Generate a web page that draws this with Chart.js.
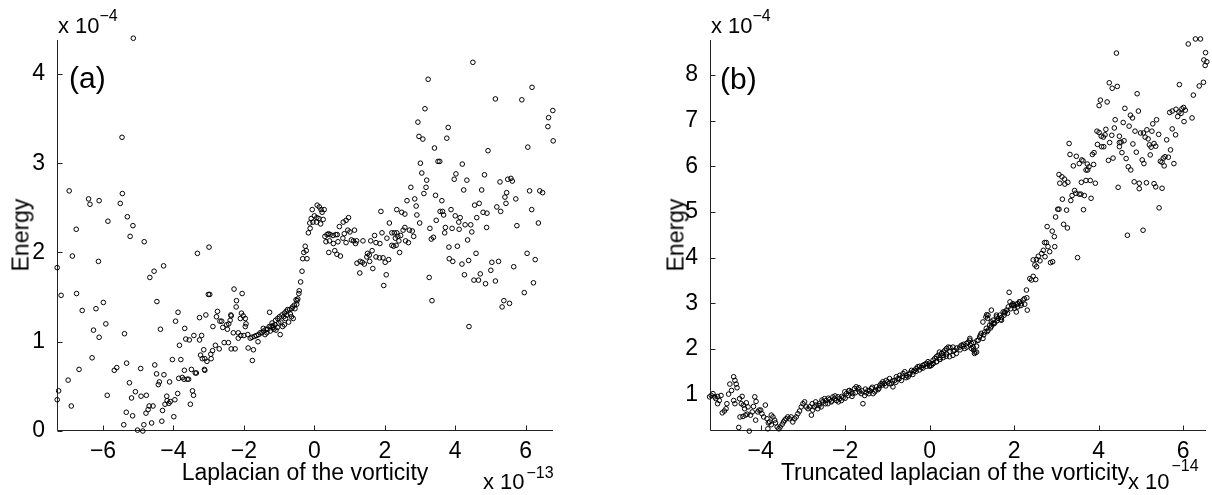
<!DOCTYPE html>
<html>
<head>
<meta charset="utf-8">
<script src="https://cdn.jsdelivr.net/npm/chart.js@4.4.1/dist/chart.umd.min.js"></script>
<style>
  body { margin:0; background:#fff; width:1212px; height:495px; overflow:hidden; position:relative;
         font-family:'Liberation Sans', Arial, sans-serif; color:#000; }
  canvas { position:absolute; top:0; }
  #chartA { left:0; }
  #chartB { left:606px; }
  .t { position:absolute; white-space:nowrap; line-height:1; font-size:23px; }
  .mul { font-size:22px; }
  .sup { font-size:16px; }
  .tag { font-size:30px; }
  .xt { transform:translateX(-50%); }
  .yt { transform:translate(-50%,-50%) rotate(-90deg); }
</style>
</head>
<body>
<canvas id="chartA" width="606" height="495"></canvas>
<canvas id="chartB" width="606" height="495"></canvas>

<div class="t mul" style="left:58px;top:14.7px">x 10</div>
<div class="t sup" style="left:99.5px;top:8.2px">&minus;4</div>
<div class="t tag" style="left:69px;top:63px">(a)</div>
<div class="t yt" style="left:21px;top:235px">Energy</div>
<div class="t xt" style="left:305px;top:460.5px">Laplacian of the vorticity</div>
<div class="t mul" style="left:483px;top:471.4px">x 10</div>
<div class="t sup" style="left:526.5px;top:464.8px">&minus;13</div>

<div class="t mul" style="left:711px;top:14.7px">x 10</div>
<div class="t sup" style="left:752.5px;top:8.2px">&minus;4</div>
<div class="t tag" style="left:720px;top:64px">(b)</div>
<div class="t yt" style="left:675.5px;top:235px">Energy</div>
<div class="t xt" style="left:955px;top:460.5px">Truncated laplacian of the vorticity</div>
<div class="t mul" style="left:1128px;top:471.4px">x 10</div>
<div class="t sup" style="left:1171.5px;top:458.2px">&minus;14</div>

<script>
// panel (a): Laplacian of the vorticity (x 1e-13) vs Energy (x 1e-4)
const A_XRANGE = [-7.306, 6.775];
const A_YRANGE = [0, 4.38];
const A_XTICKS = [-6, -4, -2, 0, 2, 4, 6];
const A_YTICKS = [0, 1, 2, 3, 4];
const A_POINTS = [
  [-5.14,4.40],[-5.46,3.29],[-6.96,2.69],[-6.41,2.60],[-6.37,2.54],[-6.11,2.58],[-5.51,2.55],[-5.45,2.66],[-5.86,2.35],[-6.76,2.26],
  [-5.31,2.40],[-5.15,2.30],[-5.23,2.18],[-4.83,2.12],[-2.99,2.06],[-3.32,1.99],[-6.87,1.96],[-6.13,1.90],[-7.30,1.83],[-4.28,1.85],
  [-4.55,1.79],[-4.67,1.72],[-7.19,1.52],[-6.75,1.54],[-5.99,1.44],[-4.47,1.45],[-6.59,1.35],[-6.20,1.37],[-5.92,1.20],[-6.27,1.13],
  [-6.11,1.05],[-5.39,1.09],[-4.37,1.14],
  [-3.87,1.33],[-3.94,1.23],[-3.68,1.15],[-3.83,0.96],[-3.65,1.03],[-3.55,1.02],[-3.42,1.07],[-3.26,1.02],[-3.20,1.07],[-3.26,1.27],
  [-3.08,1.30],[-3.01,1.53],[-2.97,1.53],[-2.88,1.17],[-2.75,1.34],[-2.78,1.28],[-2.68,1.23],[-2.63,1.23],[-2.60,1.16],[-2.49,1.19],
  [-2.47,1.14],[-2.43,1.20],[-2.39,1.24],[-2.36,1.29],[-2.56,0.99],[-2.44,0.99],[-2.70,0.92],[-2.81,0.96],[-2.89,0.90],[-2.94,0.86],
  [-3.11,0.81],[-3.14,0.91],[-3.23,0.85],[-3.18,0.81],[-3.05,0.78],[-2.93,0.81],[-3.11,0.68],[-2.28,1.59],[-2.21,1.46],[-2.22,1.39],
  [-2.05,1.54],[-2.07,1.32],[-2.02,1.29],[-1.94,1.20],[-1.96,1.26],[-2.10,1.26],[-2.36,0.92],[-2.25,0.92],[-2.30,1.10],[-2.16,1.04],
  [-2.00,1.07],[-1.89,1.08],[-1.88,0.93],[-1.76,0.79],[-1.73,0.91],[-1.60,1.00],[-2.37,1.30],[-1.96,1.17],[-2.16,1.10],[-2.09,1.07],
  [-7.30,0.35],[-7.26,0.45],[-6.99,0.57],[-6.90,0.28],[-6.68,0.69],[-6.31,0.82],[-5.88,0.40],[-5.68,0.68],[-5.61,0.71],[-5.33,0.76],
  [-5.25,0.54],[-5.19,0.37],[-5.34,0.21],[-5.16,0.17],[-5.41,0.07],[-5.08,0.44],[-5.02,0.01],[-4.87,0.00],[-4.84,0.07],[-4.93,0.70],
  [-4.92,0.39],[-4.77,0.40],[-4.78,0.20],[-4.72,0.24],[-4.69,0.28],[-4.58,0.28],[-4.62,0.09],[-4.53,0.74],[-4.48,0.64],[-4.43,0.52],
  [-4.40,0.55],[-4.27,0.63],[-4.33,0.11],[-4.31,0.23],[-4.24,0.30],[-4.18,0.34],[-4.13,0.31],[-4.09,0.33],[-4.19,0.39],[-4.11,0.55],
  [-3.99,0.16],[-3.96,0.35],[-3.88,0.42],[-4.03,0.80],[-3.79,0.80],[-3.85,0.59],[-3.75,0.60],[-3.70,0.58],[-3.61,0.58],[-3.57,0.58],
  [-3.69,0.68],[-3.49,0.69],[-3.46,0.45],[-3.43,0.40],[-3.52,0.30],[-3.38,0.65],[-3.35,0.65],[-3.12,0.69],
  [-1.82,1.04],[-1.77,1.05],[-1.70,1.06],[-1.64,1.07],[-1.54,1.10],[-1.49,1.10],[-1.44,1.12],[-1.37,1.14],[-1.32,1.14],[-1.28,1.17],
  [-1.23,1.17],[-1.18,1.18],[-1.12,1.19],[-1.01,1.21],[-1.04,1.26],[-0.99,1.28],[-0.92,1.30],[-0.87,1.28],[-0.85,1.32],[-0.80,1.34],
  [-0.76,1.36],[-0.70,1.36],[-0.64,1.37],[-0.62,1.39],[-0.57,1.41],[-0.52,1.47],[-0.47,1.48],[-1.27,1.33],[-0.97,1.08],[-1.09,1.13],
  [-1.17,1.16],[-0.65,1.28],[-0.60,1.26],[-0.73,1.22],[-0.85,1.19],[-0.90,1.17],[-1.40,1.08],[-1.35,1.10],[-1.25,1.12],[-1.15,1.14],
  [-1.05,1.16],[-0.95,1.22],[-0.82,1.26],[-0.68,1.31],[-1.58,1.08],[-1.45,1.15],[-1.20,1.21],[-1.10,1.24],[-0.78,1.30],[-0.55,1.37],
  [-0.50,1.42],
  [-0.49,1.46],[-0.44,1.54],[-0.43,1.57],[-0.39,1.67],[-0.35,1.79],[-0.33,1.93],[-0.21,1.93],[-0.30,2.00],[-0.26,2.07],[-0.23,2.02],
  [-0.17,2.22],[-0.12,2.27],[0.08,2.53],[0.14,2.51],[0.19,2.48],[0.28,2.48],[0.22,2.45],[-0.06,2.48],[-0.09,2.38],[0.00,2.41],
  [0.07,2.39],[0.13,2.38],[0.06,2.34],[-0.04,2.34],[-0.13,2.33],[0.25,2.37],[0.18,2.32],
  [0.30,2.18],[0.36,2.20],[0.40,2.21],[0.45,2.20],[0.53,2.19],[0.61,2.20],[0.65,2.20],[0.33,2.12],[0.43,2.13],[0.54,2.10],
  [0.67,2.12],[0.41,2.00],[0.58,2.02],[0.64,1.98],[0.74,1.96],[0.71,2.29],[0.82,2.34],[0.90,2.36],[0.97,2.39],[0.95,2.25],
  [1.01,2.23],[0.85,2.21],[0.81,2.16],[0.90,2.11],[1.05,2.14],[1.14,2.25],[1.11,2.13],[1.17,2.10],[1.20,2.13],[1.38,2.13],
  [1.60,2.13],[1.71,2.19],[1.75,2.11],[1.86,2.10],[1.92,2.22],[2.06,2.16],[2.13,2.33],[2.20,2.22],[2.27,2.22],[2.34,2.22],
  [2.30,2.16],[2.37,2.18],[2.40,2.13],[2.45,2.19],[2.52,2.25],[2.57,2.28],[2.20,2.08],[2.25,2.07],[2.32,2.08],[2.42,2.00],
  [1.21,1.88],[1.30,1.90],[1.36,1.89],[1.42,1.87],[1.49,1.95],[1.56,1.97],[1.64,2.02],[1.51,1.99],[1.75,1.95],[1.85,1.94],
  [1.95,1.94],[2.01,1.89],[2.11,1.92],[1.57,1.90],[1.66,1.82],[1.29,1.77],[2.04,1.75],[1.97,1.63],[1.89,2.46],[2.34,2.48],
  [2.48,2.45],[2.57,2.43],
  [4.50,4.13],[3.23,3.94],[6.18,3.85],[5.14,3.72],[5.89,3.71],[3.14,3.61],[6.77,3.59],[6.65,3.51],[6.63,3.41],[6.78,3.25],
  [2.94,3.46],[3.80,3.40],[2.97,3.30],[3.08,3.27],[3.76,3.28],[3.41,3.17],[4.93,3.14],[6.06,3.18],[3.01,3.00],[3.51,3.02],
  [3.56,3.02],[4.20,2.99],[3.05,2.89],[4.02,2.88],[3.97,2.82],[3.19,2.81],[4.33,2.81],[4.83,2.87],[2.74,2.73],[3.17,2.73],
  [3.11,2.66],[3.44,2.64],[4.24,2.70],[4.75,2.70],[5.27,2.79],[5.49,2.82],[5.58,2.83],[5.62,2.80],[5.46,2.67],[5.41,2.62],
  [5.44,2.55],[5.72,2.60],[6.11,2.69],[6.40,2.69],[6.48,2.67],[6.17,2.48],[2.63,2.58],[2.85,2.60],[2.89,2.52],[3.62,2.58],
  [3.57,2.46],[3.64,2.46],[3.67,2.42],[3.88,2.48],[3.46,2.36],[2.91,2.42],[2.99,2.33],[4.00,2.41],[4.14,2.39],[4.10,2.34],
  [4.55,2.53],[4.68,2.55],[4.79,2.45],[4.90,2.44],[4.61,2.39],[5.18,2.51],[5.29,2.46],[4.28,2.31],[4.44,2.31],[4.47,2.23],
  [4.89,2.28],[5.75,2.30],[6.36,2.33],[2.70,2.25],[2.78,2.24],[2.82,2.18],[2.67,2.11],[2.59,2.13],[3.28,2.27],[3.72,2.28],
  [3.91,2.27],[4.11,2.26],[3.70,2.22],[3.32,2.15],[3.38,2.17],[4.35,2.14],[3.82,2.06],[4.06,2.07],[3.83,1.93],[3.93,1.90],
  [4.19,1.87],[4.38,1.91],[4.59,1.99],[5.04,1.89],[5.23,1.90],[5.01,1.80],[4.26,1.75],[4.53,1.69],[4.66,1.69],[4.71,1.76],
  [4.86,1.65],[5.14,1.68],[5.66,1.84],[6.04,1.99],[6.27,1.92],[6.22,1.66],[5.96,1.55],[3.26,1.72],[3.34,1.46],[5.38,1.46],
  [5.33,1.39],[5.54,1.43],[4.39,1.17]
];

// panel (b): Truncated laplacian of the vorticity (x 1e-14) vs Energy (x 1e-4)
const B_XRANGE = [-5.20, 6.54];
const B_YRANGE = [0.202, 8.767];
const B_XTICKS = [-4, -2, 0, 2, 4, 6];
const B_YTICKS = [1, 2, 3, 4, 5, 6, 7, 8];
const B_POINTS = [
  [-5.21,0.95],[-5.17,0.98],[-5.13,1.02],[-5.09,0.95],[-5.06,0.91],[-5.02,0.96],[-4.98,0.87],[-4.94,0.98],[-5.02,0.80],[-4.91,0.60],
  [-4.86,0.64],[-4.82,0.69],[-4.80,0.80],[-4.76,1.01],[-4.73,1.23],[-4.69,1.09],[-4.64,1.39],[-4.61,1.31],[-4.58,1.23],[-4.56,1.15],
  [-4.64,0.87],[-4.61,0.80],[-4.52,0.28],[-4.50,0.91],[-4.46,0.80],[-4.44,0.96],[-4.41,0.77],[-4.38,0.69],[-4.34,0.82],[-4.30,0.73],
  [-4.49,0.51],[-4.42,0.52],[-4.36,0.55],[-4.32,0.57],[-4.27,0.20],[-4.24,0.55],[-4.20,0.62],[-4.17,0.74],[-4.14,0.95],[-4.11,0.85],
  [-4.12,0.44],[-4.07,0.62],[-4.04,0.66],[-4.00,0.66],[-3.97,0.58],[-3.93,0.51],[-3.89,0.77],[-3.85,0.47],[-3.82,0.38],[-3.79,0.40],
  [-3.83,0.25],[-3.75,0.55],[-3.71,0.51],[-3.67,0.44],[-3.65,0.38],[-3.75,0.34],[-3.61,0.29],[-3.57,0.25],[-3.54,0.29],[-3.49,0.35],
  [-3.46,0.40],[-3.43,0.44],[-3.40,0.47],[-3.36,0.51],[-3.32,0.47],[-3.28,0.51],[-3.24,0.40],[-3.20,0.47],[-3.16,0.51],[-3.12,0.58],
  [-3.08,0.64],[-3.04,0.73],[-3.00,0.80],[-2.96,0.84],[-2.92,0.73],[-2.88,0.69],[-2.84,0.73],[-2.80,0.55],[-2.77,0.66],[-2.73,0.73],
  [-2.69,0.77],[-2.65,0.69],[-2.61,0.80],[-2.57,0.73],[-2.53,0.84],[-2.49,0.91],[-2.45,0.87],[-2.41,0.80],[-2.37,0.89],[-2.33,0.84],
  [-2.29,0.95],[-2.25,0.91],[-2.21,0.87],[-2.17,0.95],[-2.13,0.91],[-2.09,0.87],[-2.05,0.93],[-2.01,1.06],[-1.97,1.02],[-1.93,0.98],
  [-1.90,1.09],[-1.86,1.06],[-1.82,1.02],[-1.78,1.13],[-1.74,1.17],[-1.70,1.12],[-1.66,1.06],[-1.62,1.02],[-1.58,0.80],[-1.54,0.98],
  [-1.50,1.04],[-1.46,1.09],[-1.42,1.08],[-1.38,1.13],[-1.34,1.02],[-1.30,1.06],[-1.26,1.17],[-1.22,1.11],[-1.18,1.20],[-1.15,1.24],
  [-1.11,1.28],[-1.07,1.24],[-1.03,1.31],[-0.99,1.28],[-0.95,1.35],[-0.91,1.24],[-0.87,1.17],[-0.83,1.31],[-0.79,1.39],[-0.75,1.35],
  [-0.71,1.42],[-0.67,1.31],[-0.63,1.46],[-0.59,1.50],[-0.55,1.42],[-0.51,1.39],[-0.47,1.47],[-0.43,1.53],[-0.39,1.50],[-0.36,1.53],
  [-0.32,1.57],[-0.28,1.61],[-0.24,1.62],[-0.20,1.59],[-0.16,1.64],[-0.12,1.66],[-0.08,1.68],[-0.04,1.72],[0.00,1.69],[0.04,1.64],
  [0.08,1.75],[0.12,1.79],[0.16,1.83],[0.20,1.86],[0.24,1.81],[0.28,1.90],[0.32,1.93],[0.36,1.97],[0.40,2.01],[0.44,2.04],
  [0.48,2.03],
  [0.00,1.64],[0.08,1.68],[0.16,1.72],[0.24,1.77],[0.32,1.81],[0.39,1.84],[0.47,1.83],[0.55,1.86],[0.59,1.97],[0.63,1.90],
  [0.71,2.04],[0.75,2.08],[0.79,2.06],[0.83,2.01],[0.87,2.12],[0.91,2.15],[0.95,2.19],[0.99,2.12],[1.03,2.04],[1.07,1.93],
  [1.11,2.06],[1.15,2.19],[1.18,2.26],[1.22,2.34],[1.26,2.23],[1.30,2.37],[1.34,2.45],[1.38,2.41],[1.42,2.52],[1.46,2.59],
  [1.50,2.63],[1.54,2.57],[1.58,2.70],[1.62,2.67],[1.66,2.74],[1.70,2.69],[1.74,2.81],[1.78,2.79],[1.82,2.85],[1.86,2.92],
  [1.90,3.03],[1.94,2.96],[1.97,2.99],[2.01,2.89],[2.05,2.81],[2.09,2.99],[2.13,3.03],[2.17,2.99],[2.21,3.07],[2.25,2.98],
  [2.29,3.29],[2.31,2.85],[1.88,3.24],[1.46,2.85],[1.38,2.74],[1.33,2.70],[1.26,2.59],[1.11,1.93],[0.99,2.01],
  [-2.78,0.80],[-2.70,0.84],[-2.62,0.76],[-2.55,0.88],[-2.47,0.80],[-2.40,0.92],[-2.32,0.86],[-2.24,0.97],[-2.16,0.84],[-2.08,0.96],
  [-2.00,0.92],[-1.92,1.08],[-1.84,0.96],[-1.76,1.04],[-1.68,1.15],[-1.60,1.08],[-1.52,1.12],[-1.44,1.02],[-1.36,1.16],[-1.28,1.10],
  [-1.20,1.14],[-1.12,1.21],[-1.04,1.19],[-0.96,1.24],[-0.88,1.30],[-0.80,1.27],[-0.72,1.35],[-0.64,1.40],[-0.56,1.37],[-0.48,1.44],
  [-0.40,1.44],[-0.32,1.51],[-0.24,1.54],[-0.16,1.58],[-0.08,1.62],[0.00,1.62],[0.08,1.68],[0.16,1.72],[0.24,1.77],[0.32,1.86],
  [0.40,1.89],[0.48,1.94],[0.56,1.95],[0.64,2.02],[0.72,1.98],[0.80,2.10],[0.88,2.04],[0.96,2.08],[1.04,2.14],[1.12,2.18],
  [1.20,2.30],[1.28,2.31],[1.36,2.38],[1.44,2.46],[1.52,2.55],[1.60,2.62],[1.68,2.64],[1.76,2.74],[1.84,2.78],[1.92,2.88],
  [2.00,2.95],[2.08,2.92],[2.16,2.95],[2.24,3.10],[2.30,3.12],[1.04,1.97],[1.06,1.90],[0.95,2.23],[0.55,2.04],[0.23,1.93],
  [1.35,2.75],[1.37,2.67],[1.50,2.56],[1.46,2.50],[1.58,2.74],[1.70,2.63],[1.78,2.81],[1.98,2.96],[2.05,2.98],[2.12,3.03],
  [2.37,3.54],[2.41,3.51],[2.45,3.95],[2.49,3.84],[2.53,3.96],[2.57,4.03],[2.61,3.93],[2.65,4.09],[2.69,4.16],[2.73,4.02],
  [2.76,4.33],[2.80,4.24],[2.84,4.13],[2.86,3.89],[2.91,3.91],[2.96,4.24],[2.51,3.52],[2.45,3.59],[2.53,3.80],[2.72,4.33],
  [3.50,4.00],
  [6.29,8.79],[6.41,8.79],[6.12,8.68],[6.53,8.49],[6.49,8.33],[6.56,8.29],[6.52,8.21],[4.42,8.48],[6.48,7.84],[6.38,7.76],
  [5.91,7.79],[6.24,7.56],[4.25,7.83],[4.32,7.71],[4.44,7.75],[4.91,7.59],[4.04,7.45],[4.01,7.33],[4.20,7.41],[4.62,7.27],
  [4.75,7.12],[4.80,7.06],[4.94,7.21],[4.39,7.02],[4.58,6.96],[4.72,6.88],[4.37,6.84],[4.17,6.81],[3.96,6.77],[4.01,6.74],
  [4.06,6.66],[4.11,6.64],[4.15,6.69],[4.31,6.68],[4.49,6.66],[4.53,6.53],[4.60,6.56],[4.49,6.52],[4.86,6.77],[4.99,6.73],
  [5.06,6.73],[5.14,6.80],[5.26,6.77],[5.37,7.02],[5.28,6.93],[5.42,6.70],[5.10,6.64],[5.17,6.60],[5.20,6.47],[5.31,6.50],
  [5.35,6.44],[5.24,6.42],[3.97,6.48],[4.07,6.43],[4.12,6.43],[4.26,6.52],[4.49,6.43],[4.81,6.49],[4.89,6.31],[5.22,6.25],
  [4.55,6.30],[4.65,6.17],[4.34,6.18],[4.23,6.13],[4.70,5.99],[4.76,5.92],[5.03,6.14],[5.07,6.06],[5.53,6.18],[5.57,6.21],
  [5.61,6.58],[5.65,6.20],[5.70,6.36],[5.74,6.82],[5.82,6.69],[5.68,7.18],[5.74,7.21],[5.83,7.25],[5.90,7.19],[5.87,7.09],
  [5.95,7.16],[5.97,7.26],[6.01,7.29],[6.05,7.23],[6.02,6.98],[6.21,7.06],[5.46,6.11],[5.50,6.09],[5.55,6.01],[5.78,6.06],
  [3.30,6.50],[3.32,6.26],[3.47,6.22],[3.60,6.14],[3.40,6.01],[3.54,6.06],[3.63,6.12],[3.73,6.05],[3.77,5.99],[3.88,6.04],
  [3.85,6.26],[3.89,6.30],[3.70,5.92],[3.74,5.92],[3.06,5.82],[3.13,5.77],[3.19,5.72],[3.08,5.63],[3.20,5.61],[3.27,5.65],
  [3.59,5.65],[3.70,5.69],[3.80,5.69],[3.92,5.63],[3.43,5.47],[3.46,5.41],[3.54,5.39],[3.58,5.39],[3.66,5.36],[3.37,5.36],
  [3.34,5.25],[3.82,5.30],[3.14,5.28],[4.46,5.54],[4.84,5.66],[4.96,5.63],[5.13,5.64],[4.96,5.51],[5.31,5.62],[5.35,5.55],
  [5.50,5.52],[3.24,5.04],[3.03,5.06],[3.06,5.06],[2.98,4.89],[3.17,4.73],[3.26,4.65],[3.64,5.05],[2.78,4.68],[2.90,4.58],
  [2.95,4.46],[4.68,4.49],[5.05,4.60],[5.43,5.09]
];

const FONT = { family: "'Liberation Sans', Arial, sans-serif", size: 23 };
const INK = '#000';
const AXIS = '#222';

const minusFmt = (v) => v < 0 ? '\u2212' + Math.abs(v) : String(v);

// matlab-style axes: only left + bottom lines, short ticks pointing inward
const inwardAxes = {
  id: 'inwardAxes',
  beforeDatasetsDraw(chart) {
    const { ctx, chartArea: a, scales: { x, y } } = chart;
    const L = Math.round(a.left) + 0.5, B = Math.round(a.bottom) - 0.5;
    ctx.save();
    ctx.strokeStyle = AXIS;
    ctx.lineWidth = 1;
    ctx.beginPath();
    ctx.moveTo(L, a.top);
    ctx.lineTo(L, B);
    ctx.lineTo(a.right, B);
    x.ticks.forEach(t => {
      const px = Math.round(x.getPixelForValue(t.value)) + 0.5;
      ctx.moveTo(px, B); ctx.lineTo(px, B - 5);
    });
    y.ticks.forEach(t => {
      const py = Math.round(y.getPixelForValue(t.value)) + 0.5;
      ctx.moveTo(L, py); ctx.lineTo(L + 5, py);
    });
    ctx.stroke();
    ctx.restore();
  }
};

function makePanel(canvasId, points, xr, yr, xticks, yticks, yWidth, padRight) {
  return new Chart(document.getElementById(canvasId), {
    type: 'scatter',
    data: { datasets: [{
      data: points.map(([x, y]) => ({ x, y })),
      pointStyle: 'circle', pointRadius: 2.3, borderWidth: 1,
      borderColor: '#000', backgroundColor: 'rgba(0,0,0,0)', clip: false,
    }]},
    options: {
      responsive: false, animation: false, events: [],
      layout: { padding: { top: 40, right: padRight, left: 0, bottom: 0 } },
      plugins: { legend: { display: false }, tooltip: { enabled: false } },
      scales: {
        x: {
          type: 'linear', min: xr[0], max: xr[1],
          grid: { display: false }, border: { display: false },
          afterBuildTicks: s => { s.ticks = xticks.map(v => ({ value: v })); },
          afterFit: s => { s.height = 64; },
          ticks: { font: FONT, color: INK, padding: -1, maxRotation: 0, autoSkip: false, callback: minusFmt },
        },
        y: {
          type: 'linear', min: yr[0], max: yr[1],
          grid: { display: false }, border: { display: false },
          afterBuildTicks: s => { s.ticks = yticks.map(v => ({ value: v })); },
          afterFit: s => { s.width = yWidth; },
          ticks: { font: FONT, color: INK, padding: 4, autoSkip: false, callback: minusFmt },
        },
      },
    },
    plugins: [inwardAxes],
  });
}

makePanel('chartA', A_POINTS, A_XRANGE, A_YRANGE, A_XTICKS, A_YTICKS, 57, 53);
makePanel('chartB', B_POINTS, B_XRANGE, B_YRANGE, B_XTICKS, B_YTICKS, 104, 6);
</script>
</body>
</html>
